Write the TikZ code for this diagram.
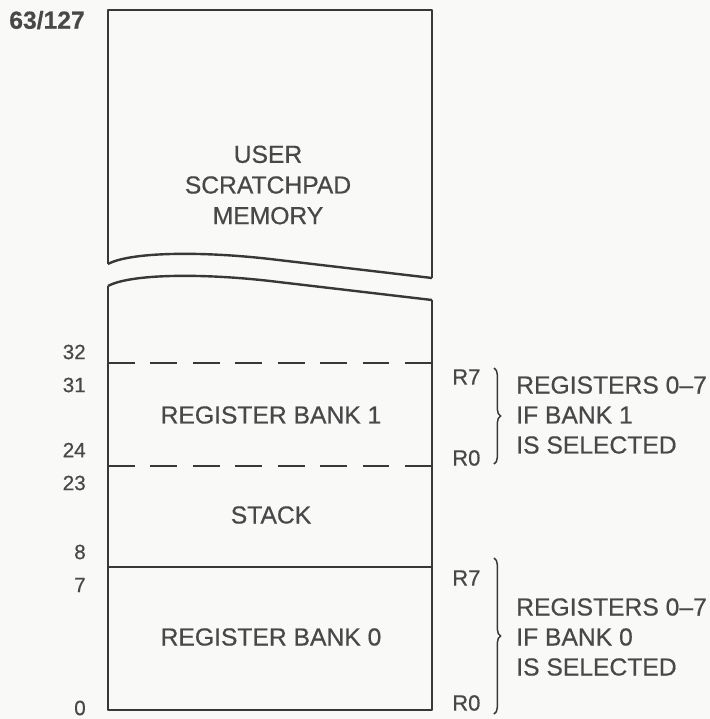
\documentclass[tikz,border=0pt]{standalone}
\usepackage{fontspec}
\setmainfont{Liberation Sans}[FakeBold=0.5]
\usepackage{xcolor}
\usepackage{tikz}
\usetikzlibrary{positioning, decorations.pathreplacing}

\definecolor{inkgray}{HTML}{484848}
\definecolor{linegray}{HTML}{383838}
\definecolor{paper}{HTML}{F9F9F7}

\begin{document}
\begin{tikzpicture}[
    x=0.75pt, y=-0.75pt,
    text=inkgray,
    wall/.style={draw=linegray, line width=1.8pt, line join=round},
    split/.style={draw=linegray, line width=1.8pt, dash pattern=on 20pt off 11.85pt},
    area/.style={align=center, font=\fontsize{18.5}{23}\selectfont},
    addr/.style={anchor=east, inner sep=0pt, font=\fontsize{15.5}{18}\selectfont},
    reg/.style={anchor=west, inner sep=0pt, font=\fontsize{16.5}{18}\selectfont},
    note/.style={anchor=west, inner sep=0pt, align=left, font=\fontsize{18.5}{22.5}\selectfont},
    curly/.style={draw=linegray, line width=1.1pt, decorate, decoration={brace, amplitude=5pt}}
]

\def\xl{108}
\def\xr{432}

% Page
\fill[paper] (0,0) rectangle (710,719);

% Upper part, broken at the bottom
\draw[wall] (\xl,264) -- (\xl,10) -- (\xr,10) -- (\xr,278);
\draw[wall] (\xl,264) .. controls (130,252) and (200,251) .. (270,259) -- (\xr,278);

% Lower part, broken at the top
\draw[wall] (\xl,286) .. controls (130,274) and (200,273) .. (270,281) -- (\xr,300);
\draw[wall] (\xl,286) -- (\xl,710) -- (\xr,710) -- (\xr,300);

% Bank limits
\draw[split] (\xl,363) -- (\xr,363);
\draw[split] (\xl,466) -- (\xr,466);
\draw[wall] (\xl,567) -- (\xr,567);

% Areas
\node[area] (user)  at (268,185) {USER\\SCRATCHPAD\\MEMORY};
\node[area] (bank1) at (271,415) {REGISTER BANK 1};
\node[area] (stack) at (271,515) {STACK};
\node[area] (bank0) at (271,637) {REGISTER BANK 0};

% Addresses
\node[addr, font=\fontsize{18.5}{20}\selectfont\bfseries] (top) at (85,20) {63/127};
\node[addr] (a32) at (86,352) {32};
\node[addr] (a31) at (86,385) {31};
\node[addr] (a24) at (86,450) {24};
\node[addr] (a23) at (86,483) {23};
\node[addr] (a8)  at (86,552) {8};
\node[addr] (a7)  at (86,585) {7};
\node[addr] (a0)  at (86,708) {0};

% Registers of bank 1
\node[reg] (b1r7) at (452,377) {R7};
\node[reg] (b1r0) at (452,458) {R0};
\draw[curly] (494,368) -- (494,464);
\node[note] (b1note) at (516,415) {REGISTERS 0--7\\IF BANK 1\\IS SELECTED};

% Registers of bank 0
\node[reg] (b0r7) at (452,578) {R7};
\node[reg] (b0r0) at (452,703) {R0};
\draw[curly] (494,558) -- (494,714);
\node[note] (b0note) at (516,637) {REGISTERS 0--7\\IF BANK 0\\IS SELECTED};

\end{tikzpicture}
\end{document}
